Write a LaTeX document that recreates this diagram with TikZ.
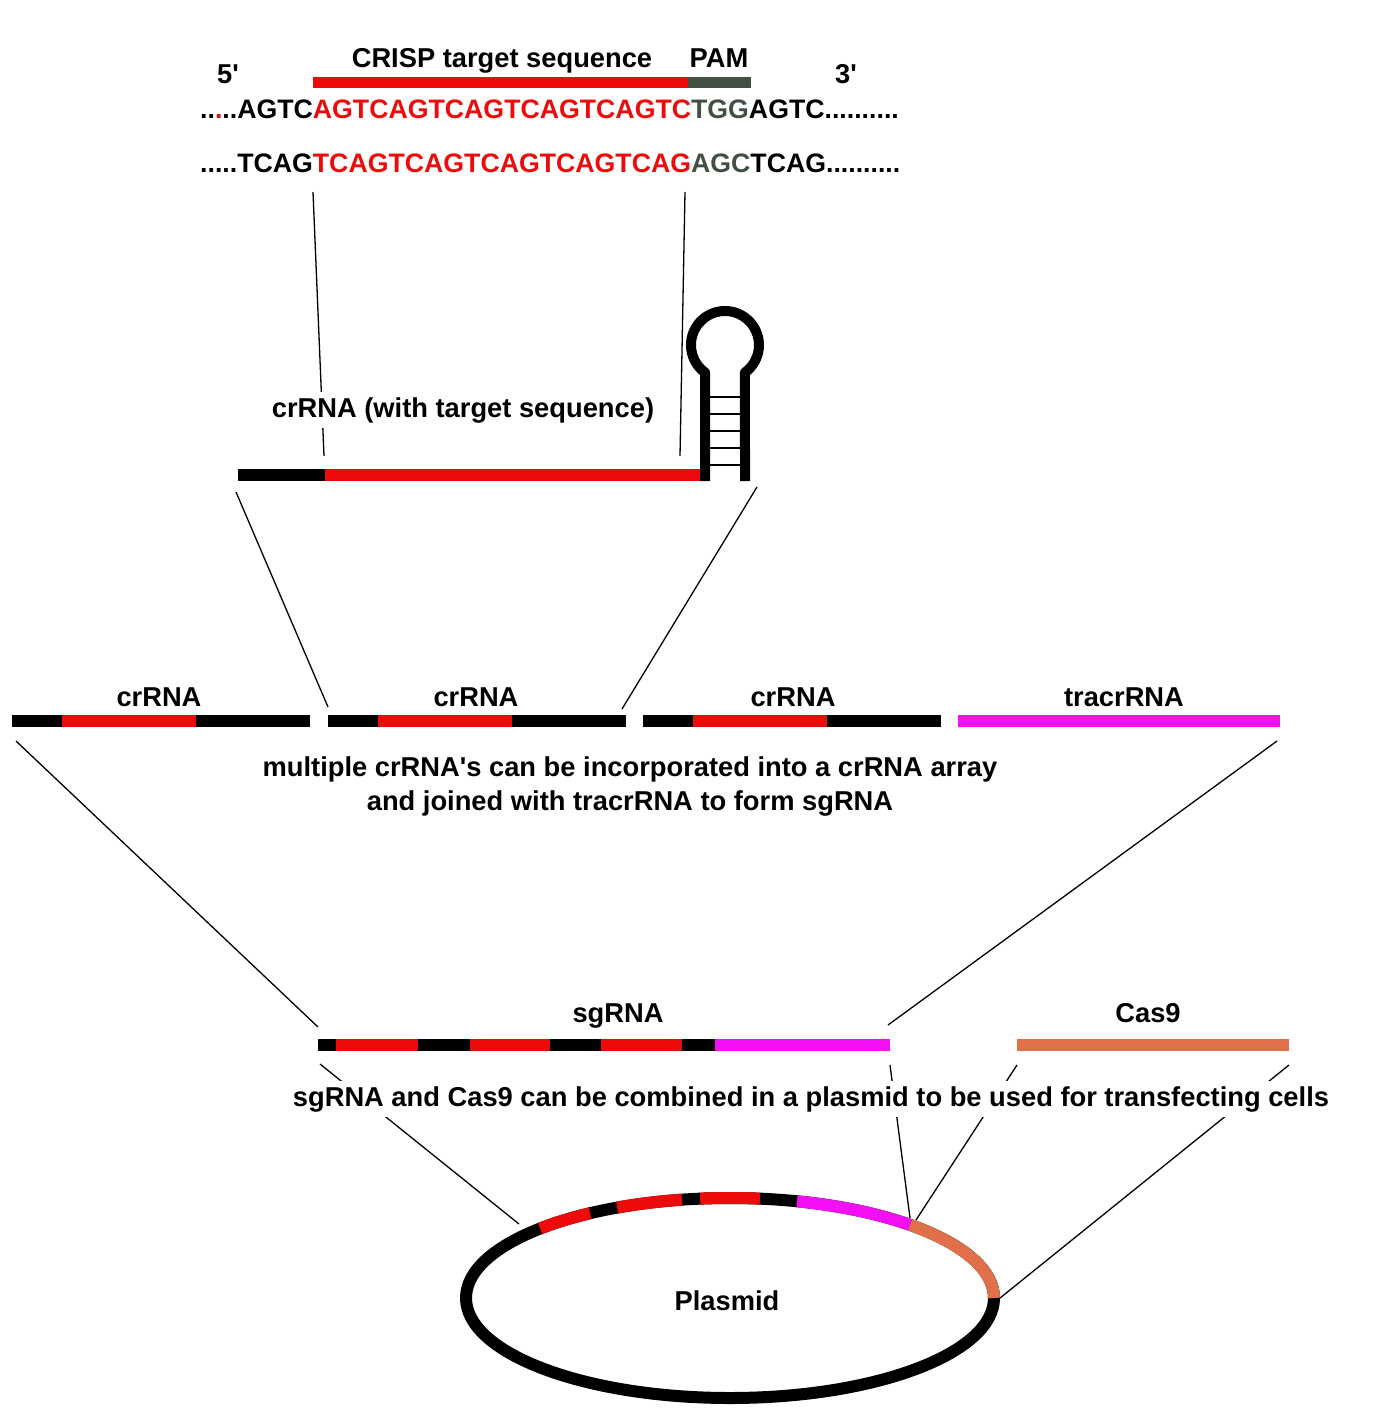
\documentclass[tikz,border=0pt]{standalone}
\usepackage{fontspec}
\newfontfamily\lsans{Liberation Sans}
\definecolor{dnared}{RGB}{236,10,10}
\definecolor{pamc}{RGB}{66,80,68}
\definecolor{tracr}{RGB}{245,15,245}
\definecolor{cas}{RGB}{224,112,74}
\begin{document}
\begin{tikzpicture}[x=1pt,y=-1pt,
  lbl/.style={font=\lsans\fontsize{27.3}{30}\selectfont\bfseries, inner sep=0pt, anchor=base},
  wlbl/.style={lbl, fill=white, inner sep=5pt},
  seqtxt/.style={font=\lsans\fontsize{26.7}{30}\selectfont\bfseries, inner sep=0pt, anchor=base west},
  bar/.style={line width=12pt},
  conn/.style={line width=1.3pt},
  rung/.style={line width=1.3pt},
  ring/.style={line width=12pt}]
\useasboundingbox (0,0) rectangle (1400,1411);
% connector end points
\coordinate (c1a) at (313,192); \coordinate (c1b) at (324,456);
\coordinate (c2a) at (685,192); \coordinate (c2b) at (680,456);
\coordinate (c3a) at (236,492); \coordinate (c3b) at (328,707);
\coordinate (c4a) at (757,487); \coordinate (c4b) at (622,709);
\coordinate (c5a) at (16,741);  \coordinate (c5b) at (318,1027);
\coordinate (c6a) at (1277,741); \coordinate (c6b) at (888,1025);
\coordinate (c7a) at (320,1064); \coordinate (c7b) at (519,1224);
\coordinate (c8a) at (890,1065); \coordinate (c8b) at (910,1218);
\coordinate (c9a) at (1017,1065); \coordinate (c9b) at (916,1220);
\coordinate (c10a) at (1289,1065); \coordinate (c10b) at (1000,1298);
\foreach \i in {1,...,10} {\draw[conn] (c\i a) -- (c\i b);}
% top sequence
\node[lbl] (five) at (228,83) {5'};
\node[lbl] (three) at (846,83) {3'};
\node[lbl] (crisp) at (502,67) {CRISP target sequence};
\node[lbl] (pam) at (719,67) {PAM};
\draw[line width=11pt, dnared] (313,82) -- (688,82);
\draw[line width=11pt, pamc] (688,82) -- (751,82);
\node[seqtxt] (seq1) at (200,118) {..\textcolor{dnared}{.}..AGTC\textcolor{dnared}{AGTCAGTCAGTCAGTCAGTC}\textcolor{pamc}{TGG}AGTC..........};
\node[seqtxt] (seq2) at (200,172) {.....TCAG\textcolor{dnared}{TCAGTCAGTCAGTCAGTCAG}\textcolor{pamc}{AGC}TCAG..........};
% crRNA with hairpin
\node[wlbl] (crlabel) at (463,417) {crRNA (with target sequence)};
\draw[bar] (238,475) -- (325,475);
\draw[bar, dnared] (325,475) -- (700,475);
\draw[line width=10pt, line join=round] (705,481) -- (705,372.5) arc[start angle=126, end angle=414, radius=34] -- (745,481);
\foreach \y in {397,414,431,448,465} {\draw[rung] (710,\y) -- (740,\y);}
% crRNA array row
\node[lbl] (cr1) at (159,706) {crRNA};
\node[lbl] (cr2) at (476,706) {crRNA};
\node[lbl] (cr3) at (793,706) {crRNA};
\node[lbl] (tr) at (1124,706) {tracrRNA};
\foreach \s in {12,328,643} {
  \draw[bar] (\s,721) -- ({\s+298},721);
  \draw[bar, dnared] ({\s+50},721) -- ({\s+184},721);
}
\draw[bar, tracr] (958,721) -- (1280,721);
\node[lbl] (multi1) at (630,776) {multiple crRNA's can be incorporated into a crRNA array};
\node[lbl] (multi2) at (630,810) {and joined with tracrRNA to form sgRNA};
% sgRNA and Cas9
\node[lbl] (sg) at (618,1022) {sgRNA};
\node[lbl] (cas9) at (1148,1022) {Cas9};
\draw[bar] (318,1045) -- (715,1045);
\draw[bar, dnared] (336,1045) -- (418,1045);
\draw[bar, dnared] (470,1045) -- (550,1045);
\draw[bar, dnared] (601,1045) -- (682,1045);
\draw[bar, tracr] (715,1045) -- (890,1045);
\draw[bar, cas] (1017,1045) -- (1289,1045);
\node[wlbl] (combine) at (811,1106) {sgRNA and Cas9 can be combined in a plasmid to be used for transfecting cells};
% plasmid
\coordinate (pc) at (730,1298);
\draw[ring] (pc) ellipse [x radius=264, y radius=100];
\draw[ring, dnared] (pc) ++(-136:264 and 100) arc[start angle=-136, end angle=-122, x radius=264, y radius=100];
\draw[ring, dnared] (pc) ++(-115.3:264 and 100) arc[start angle=-115.3, end angle=-100.5, x radius=264, y radius=100];
\draw[ring, dnared] (pc) ++(-96.5:264 and 100) arc[start angle=-96.5, end angle=-83.5, x radius=264, y radius=100];
\draw[ring, tracr] (pc) ++(-75.3:264 and 100) arc[start angle=-75.3, end angle=-47, x radius=264, y radius=100];
\draw[ring, cas] (pc) ++(-47:264 and 100) arc[start angle=-47, end angle=0, x radius=264, y radius=100];
\node[lbl] (plasmid) at (727,1310) {Plasmid};
\end{tikzpicture}
\end{document}
